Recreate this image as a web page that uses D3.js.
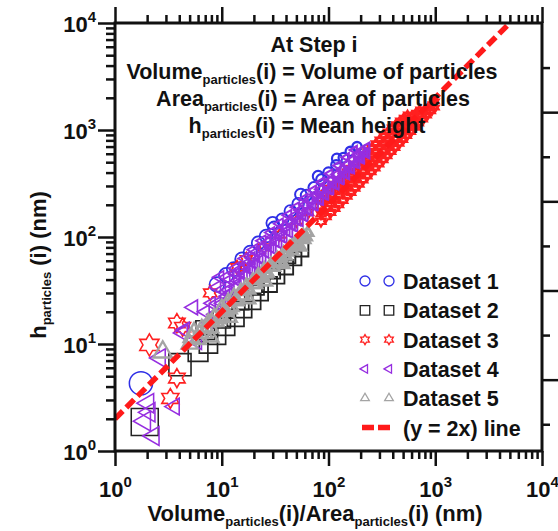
<!DOCTYPE html>
<html lang="en">
<head>
<meta charset="UTF-8">
<title>h particles vs Volume/Area</title>
<script src="https://d3js.org/d3.v7.min.js"></script>
<style>
    body { margin: 0; background: #fff; }
    text { font-family: Arial, "Liberation Sans", sans-serif; font-weight: bold; fill: #111; }
</style>
</head>
<body>
<svg width="558" height="531"></svg>
<script>
// ---- data: [Volume/Area (nm), h (nm)] ----
const set1 = [ // Dataset 1, blue circles
    [1.75, 4.3],
    [9, 36], [11, 44], [13, 50], [15.5, 62], [18.5, 72], [22, 88], [26, 102], [31, 122], [37, 146],
    [44, 175], [52, 205], [62, 245], [73, 290], [86, 345], [100, 400], [118, 470], [138, 550],
    [160, 630], [185, 700],
    [30, 135], [55, 250], [80, 370], [120, 540]
];
const set2 = [ // Dataset 2, black squares
    [1.9, 1.87], [4.06, 6.4], [7, 13.5],
    [6, 8.5], [7.5, 10], [9, 12], [11, 14.5], [13.5, 17.5], [16, 21], [19.5, 25], [23, 30], [28, 36],
    [33, 43], [40, 52], [48, 63], [56, 76],
    [10, 17], [15, 25], [21, 34], [30, 48], [42, 66]
];
const set3 = [ // Dataset 3, red hexagrams
    [2.1, 9.8], [3.8, 4.8], [3.3, 3.1], [3.8, 15.7], [4.3, 14.4], [7.8, 30], [13.9, 52],
    [17, 62], [25, 80], [35, 105], [50, 140], [65, 170],
    [85, 140], [85, 165], [85, 195], [85, 230], [95, 155], [95, 185], [95, 220], [95, 255],
    [105, 170], [105, 205], [105, 240], [105, 285], [115, 185], [115, 225], [115, 265], [115, 310],
    [125, 200], [125, 245], [125, 290], [125, 340], [137, 220], [137, 270], [137, 315], [137, 370],
    [150, 240], [150, 295], [150, 345], [150, 405], [163, 260], [163, 320], [163, 375], [163, 440],
    [178, 285], [178, 350], [178, 410], [178, 480], [195, 310], [195, 380], [195, 450], [195, 525],
    [212, 340], [212, 415], [212, 490], [212, 570], [232, 370], [232, 450], [232, 535], [232, 625],
    [253, 405], [253, 495], [253, 580], [253, 680], [276, 440], [276, 540], [276, 635], [276, 745],
    [300, 480], [300, 585], [300, 690], [300, 810], [328, 525], [328, 640], [328, 755], [328, 885],
    [358, 570], [358, 700], [358, 825], [358, 965], [390, 625], [390, 760], [390, 900], [390, 1050],
    [425, 680], [425, 830], [425, 980], [425, 1130], [465, 745], [465, 905], [465, 1070], [465, 1220],
    [505, 810], [505, 985], [505, 1160], [505, 1300], [550, 880], [550, 1070], [550, 1250], [550, 1390],
    [600, 960], [600, 1170], [600, 1350], [655, 1050], [655, 1270], [655, 1450],
    [715, 1150], [715, 1380], [715, 1560], [780, 1250], [780, 1500], [850, 1360], [850, 1620],
    [930, 1490], [930, 1750], [1010, 1620], [1010, 1850]
];
const set4 = [ // Dataset 4, purple left triangles
    [2.04, 2.8], [1.9, 1.9], [2.3, 1.38], [2.1, 2.3], [3.6, 2.6], [2.64, 7.4], [4.5, 13.5], [5.4, 22],
    [5.9, 10.4], [9.6, 42], [4.3, 12.7],
    [7, 20], [7.5, 16], [8, 24], [8.5, 19], [10, 24], [10, 32], [11, 28],
    [12, 30], [12, 40], [13.5, 34], [13.5, 45], [15, 38], [15, 50], [17, 44], [17, 56],
    [19, 50], [19, 64], [21, 56], [21, 72], [24, 62], [24, 80], [27, 70], [27, 90],
    [30, 78], [30, 100], [34, 88], [34, 112], [38, 98], [38, 125], [43, 110], [43, 140],
    [48, 125], [48, 158], [54, 140], [54, 178], [60, 155], [60, 200], [67, 175], [67, 225],
    [75, 195], [75, 250], [84, 220], [84, 280], [94, 245], [94, 310], [105, 275], [105, 345],
    [118, 305], [118, 385], [132, 340], [132, 430], [148, 380], [148, 480], [165, 430], [165, 530],
    [185, 480], [185, 590], [205, 530], [205, 650], [230, 590], [230, 700],
    [9, 24], [11.5, 32], [14, 39], [16, 44], [18, 50], [20, 56], [22.5, 63], [25.5, 72], [28.5, 80],
    [32, 90], [36, 101], [40.5, 114], [45.5, 128], [51, 143], [57, 160], [63.5, 178], [71, 199],
    [79.5, 223], [89, 250], [99, 278], [111, 312], [125, 350], [140, 392], [156, 437], [175, 490],
    [195, 545], [218, 610],
    [9, 34], [11, 42], [13.5, 51], [16.5, 63], [20, 76], [24, 92], [29, 110], [35, 133], [42, 160],
    [50, 190], [60, 228], [72, 273], [86, 326], [103, 390], [123, 465], [147, 555], [175, 650]
];
const set5 = [ // Dataset 5, gray triangles
    [2.8, 8.4],
    [5, 10], [5.5, 13], [6, 11], [6.5, 14], [7, 12.5], [7.5, 16], [8, 14], [8.5, 18], [9, 16],
    [10, 18], [10, 22], [11, 20], [11.5, 25], [12.5, 22], [13, 28], [14, 25], [15, 31], [16, 28],
    [17, 35], [18, 32], [19.5, 39], [21, 36], [22, 44], [24, 41], [25, 50], [27, 46], [29, 56],
    [31, 52], [33, 63], [35, 58], [38, 71], [40, 66], [43, 80], [46, 74], [49, 90], [52, 83],
    [56, 100], [60, 94], [64, 110],
    [8, 11.5], [12, 17.5], [18, 26], [26, 38], [38, 55], [55, 80],
    [5.2, 11.5], [6.2, 12.5], [7.2, 14], [8.2, 16], [9.5, 17], [10.5, 20], [12, 21], [13.5, 26],
    [15.5, 28], [17.5, 33], [20, 36], [23, 42], [26, 45], [28, 52], [32, 57], [36, 64], [41, 72],
    [45, 82], [50, 86], [54, 96], [58, 104], [62, 100]
];
const lineSlope = 2;            // y = 2x
const lineExtent = [1, 5000];
const majorTicks = [1, 10, 100, 1000, 10000];
const legendNames = ["Dataset 1", "Dataset 2", "Dataset 3", "Dataset 4", "Dataset 5", "(y = 2x) line"];

const series = [
    { data: set1, shape: "circle", color: "#2f2fe6", k: 1, w: 1 },
    { data: set2, shape: "square", color: "#222222", k: 1.25, w: 1 },
    { data: set3, shape: "hexagram", color: "#ff2020", k: 1, w: 1 },
    { data: set4, shape: "triLeft", color: "#962ee0", k: 1, w: 1 },
    { data: set5, shape: "triUp", color: "#a4a4a4", k: 1.05, w: 1.5 }
];

const margin = { top: 23, right: 16, bottom: 80, left: 115 };
const width = 558 - margin.left - margin.right;
const height = 531 - margin.top - margin.bottom;

const svg = d3.select("svg")
    .append("g")
    .attr("transform", `translate(${margin.left},${margin.top})`);

const x = d3.scaleLog().domain([1, 1e4]).range([0, width]);
const y = d3.scaleLog().domain([1, 1e4]).range([height, 0]);
const yRight = d3.scaleLinear().domain([0.2, 5]).range([height, 0]);
// big markers for the few small particles, small & dense ones further up
const size = d3.scaleLog().domain([1.5, 8, 1000]).range([24, 15, 6]).clamp(true);
const strokeW = d3.scaleLog().domain([1.5, 30, 500]).range([1.5, 1.8, 2.6]).clamp(true);

const minorTicks = [];
for (let p = 0; p < 4; p++) for (let m = 2; m < 10; m++) minorTicks.push(m * Math.pow(10, p));

function markerPath(shape, r) {
    if (shape === "circle") return `M${r},0A${r},${r} 0 1,1 ${-r},0A${r},${r} 0 1,1 ${r},0Z`;
    if (shape === "square") { const s = r * 0.95; return `M${-s},${-s}H${s}V${s}H${-s}Z`; }
    if (shape === "triLeft") return `M${-r},0L${r * 0.5},${-r * 0.866}L${r * 0.5},${r * 0.866}Z`;
    if (shape === "triUp") return `M0,${-r}L${r * 0.866},${r * 0.5}L${-r * 0.866},${r * 0.5}Z`;
    // hexagram outline
    const pts = [];
    for (let k = 0; k < 12; k++) {
        const a = -Math.PI / 2 + k * Math.PI / 6;
        const rr = k % 2 === 0 ? r : r / Math.sqrt(3);
        pts.push([rr * Math.cos(a), rr * Math.sin(a)]);
    }
    return "M" + pts.map(p => p.join(",")).join("L") + "Z";
}

// ---- axes ----
function styleAxis(g) {
    g.select(".domain").remove();
    g.selectAll(".tick line").attr("stroke", "#111").attr("stroke-width", 2.5);
}

svg.append("g").attr("transform", `translate(0,${height})`)
    .call(d3.axisBottom(x).tickValues(minorTicks).tickSize(8).tickFormat("")).call(styleAxis);
const xAxis = svg.append("g").attr("transform", `translate(0,${height})`)
    .call(d3.axisBottom(x).tickValues(majorTicks).tickSize(15).tickFormat(() => "10")).call(styleAxis);
xAxis.selectAll(".tick text")
    .attr("y", 46).attr("dy", null).attr("font-size", 22).attr("fill", "#111")
    .append("tspan").attr("dy", -10).attr("font-size", 15).text(d => Math.round(Math.log10(d)));

svg.append("g")
    .call(d3.axisTop(x).tickValues(minorTicks).tickSize(8).tickFormat("")).call(styleAxis);
svg.append("g")
    .call(d3.axisTop(x).tickValues(majorTicks).tickSize(16).tickFormat("")).call(styleAxis);

svg.append("g")
    .call(d3.axisLeft(y).tickValues(minorTicks).tickSize(9).tickFormat("")).call(styleAxis);
const yAxis = svg.append("g")
    .call(d3.axisLeft(y).tickValues(majorTicks).tickSize(17).tickFormat(() => "10")).call(styleAxis);
yAxis.selectAll(".tick text")
    .attr("x", -19).attr("dy", null).attr("y", 8).attr("font-size", 22).attr("fill", "#111")
    .append("tspan").attr("dy", -10).attr("font-size", 15).text(d => Math.round(Math.log10(d)));

svg.append("g").attr("transform", `translate(${width},0)`)
    .call(d3.axisRight(yRight).tickValues([0.5, 1.5, 2.5, 3.5, 4.5]).tickSize(8).tickFormat("")).call(styleAxis);
svg.append("g").attr("transform", `translate(${width},0)`)
    .call(d3.axisRight(yRight).tickValues([1, 2, 3, 4]).tickSize(16).tickFormat("")).call(styleAxis);

// ---- points ----
svg.append("clipPath").attr("id", "plotClip")
    .append("rect").attr("width", width).attr("height", height);
const plot = svg.append("g").attr("clip-path", "url(#plotClip)");

series.forEach(s => {
    plot.append("g").selectAll("path")
        .data(s.data)
        .join("path")
        .attr("transform", d => `translate(${x(d[0])},${y(d[1])})`)
        .attr("d", d => markerPath(s.shape, s.k * size(d[0]) / 2))
        .attr("fill", "none")
        .attr("stroke", s.color)
        .attr("stroke-width", d => s.w * strokeW(d[0]));
});

const line = d3.line().x(d => x(d)).y(d => y(lineSlope * d));
plot.append("path")
    .datum(lineExtent)
    .attr("d", line)
    .attr("fill", "none")
    .attr("stroke", "#ff1a1a")
    .attr("stroke-width", 5.5)
    .attr("stroke-dasharray", "11,5");

// frame
svg.append("rect").attr("width", width).attr("height", height)
    .attr("fill", "none").attr("stroke", "#111").attr("stroke-width", 3);

// ---- annotation ----
function addSubText(g, parts, attrs) {
    const t = g.append("text");
    Object.entries(attrs).forEach(([k, v]) => t.attr(k, v));
    let low = false;
    parts.forEach(p => {
        const sub = p.startsWith("_");
        const ts = t.append("tspan").text(sub ? p.slice(1) : p);
        if (sub && !low) { ts.attr("dy", 5).attr("font-size", 13); low = true; }
        else if (!sub && low) { ts.attr("dy", -5); low = false; }
    });
    return t;
}

const note = d3.select("svg").append("g");
addSubText(note, ["At Step i"], { x: 314, y: 52, "text-anchor": "middle", "font-size": 21.5 });
addSubText(note, ["Volume", "_particles", "(i) = Volume of particles"], { x: 312, y: 79, "text-anchor": "middle", "font-size": 21.5 });
addSubText(note, ["Area", "_particles", "(i) = Area of particles"], { x: 313, y: 106, "text-anchor": "middle", "font-size": 21.5 });
addSubText(note, ["h", "_particles", "(i) = Mean height"], { x: 307, y: 133, "text-anchor": "middle", "font-size": 21.5 });

// axis titles
addSubText(note, ["Volume", "_particles", "(i)/Area", "_particles", "(i) (nm)"], { x: 315, y: 521, "text-anchor": "middle", "font-size": 22 });
addSubText(note, ["h", "_particles", " (i) (nm)"], { transform: "translate(46,265) rotate(-90)", "text-anchor": "middle", "font-size": 22 });

// ---- legend ----
const legend = d3.select("svg").append("g");
legendNames.forEach((name, i) => {
    const cy = 281 + i * 29.3;
    if (i < series.length) {
        [365, 389].forEach(cx => {
            legend.append("path")
                .attr("transform", `translate(${cx},${cy})`)
                .attr("d", markerPath(series[i].shape, 5))
                .attr("fill", "none")
                .attr("stroke", series[i].color)
                .attr("stroke-width", 1.3);
        });
    } else {
        legend.append("line")
            .attr("x1", 362).attr("x2", 391).attr("y1", cy).attr("y2", cy)
            .attr("stroke", "#ff1a1a").attr("stroke-width", 5.5).attr("stroke-dasharray", "12,4");
    }
    legend.append("text").attr("x", 403).attr("y", cy + 8).attr("font-size", 21.5).text(name);
});
</script>
</body>
</html>
